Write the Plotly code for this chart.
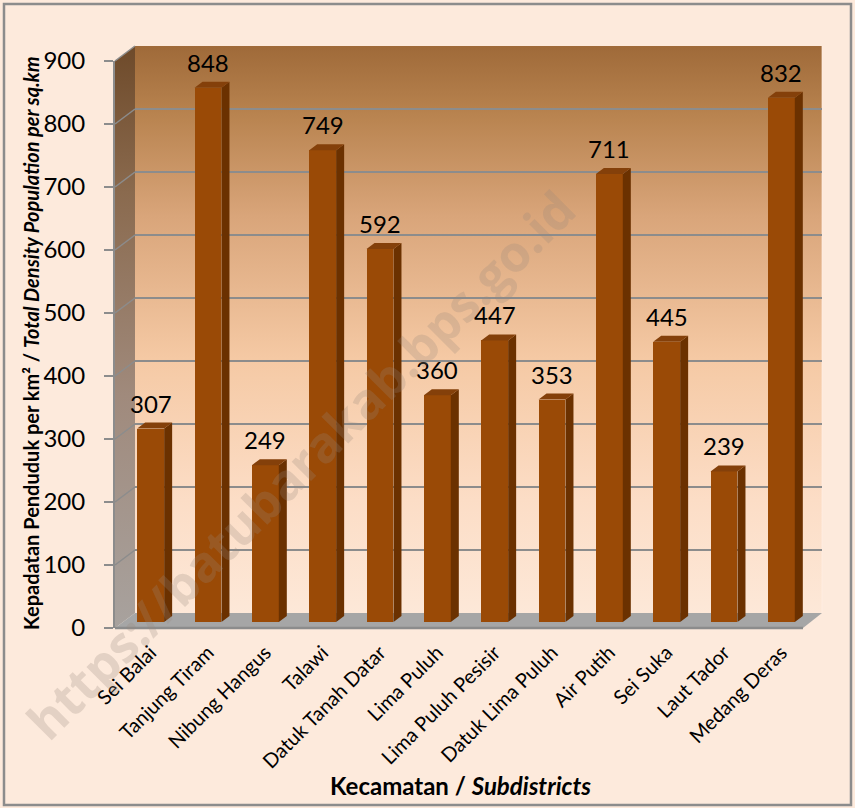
import plotly.graph_objects as go

# ---------------- data ----------------
categories = ["Sei Balai", "Tanjung Tiram", "Nibung Hangus", "Talawi", "Datuk Tanah Datar",
              "Lima Puluh", "Lima Puluh Pesisir", "Datuk Lima Puluh", "Air Putih", "Sei Suka",
              "Laut Tador", "Medang Deras"]
density = [307, 848, 249, 749, 592, 360, 447, 353, 711, 445, 239, 832]
y_ticks = [0, 100, 200, 300, 400, 500, 600, 700, 800, 900]

# ---------------- geometry (pixels) ----------------
W, H = 855, 808
FONT = "Lato"
PPU = 0.63                     # pixels per data unit (vertical)
FRONT_L, FRONT_R, FRONT_Y0 = 115, 803, 628
BACK_L, BACK_R, BACK_Y0 = 135, 822, 613
BAR_L, BAR_R, BAR_Y0 = 122, 810, 622
YMAX = 900

def px(x):
    return x / W

def py(y):
    return 1 - y / H

idx = list(range(len(categories)))
n = len(categories)
cat_px = (BAR_R - BAR_L) / n
hw = 0.235
ddx = 8 / cat_px
ddy = 6 / PPU

fig = go.Figure()

# ---------- decoration layer (xy, pixel coordinates, y up) ----------
def Y(p):
    return H - p

back_top = BACK_Y0 - YMAX * PPU
front_top = FRONT_Y0 - YMAX * PPU

# back wall with gradient
fig.add_trace(go.Scatter(
    x=[BACK_L, BACK_R, BACK_R, BACK_L, BACK_L],
    y=[Y(BACK_Y0), Y(BACK_Y0), Y(back_top), Y(back_top), Y(BACK_Y0)],
    mode="lines", line=dict(width=0), fill="toself",
    fillgradient=dict(type="vertical", start=Y(BACK_Y0), stop=Y(back_top),
                      colorscale=[[0, "#FDE8D8"], [0.2, "#FCDDC6"], [0.45, "#F5C9A4"],
                                  [0.7, "#D9A57A"], [0.88, "#B8834F"], [1, "#9F6A39"]]),
    hoverinfo="skip", showlegend=False, xaxis="x", yaxis="y"))

# left side wall with gradient
fig.add_trace(go.Scatter(
    x=[FRONT_L, BACK_L, BACK_L, FRONT_L, FRONT_L],
    y=[Y(FRONT_Y0), Y(BACK_Y0), Y(back_top), Y(front_top), Y(FRONT_Y0)],
    mode="lines", line=dict(width=0), fill="toself",
    fillgradient=dict(type="vertical", start=Y(FRONT_Y0), stop=Y(back_top),
                      colorscale=[[0, "#A8A29E"], [0.4, "#A08A7C"], [0.75, "#8A6A4E"], [1, "#6E4A2A"]]),
    hoverinfo="skip", showlegend=False, xaxis="x", yaxis="y"))

# side wall grid lines
gx, gy = [], []
for v in y_ticks[1:]:
    gx += [FRONT_L, BACK_L, None]
    gy += [Y(FRONT_Y0 - v * PPU), Y(BACK_Y0 - v * PPU), None]
fig.add_trace(go.Scatter(x=gx, y=gy, mode="lines", line=dict(color="#8C8C8C", width=1.5),
                         hoverinfo="skip", showlegend=False, xaxis="x", yaxis="y"))

# floor
fig.add_trace(go.Scatter(
    x=[FRONT_L, FRONT_R, BACK_R, BACK_L, FRONT_L],
    y=[Y(FRONT_Y0), Y(FRONT_Y0), Y(BACK_Y0), Y(BACK_Y0), Y(FRONT_Y0)],
    mode="lines", line=dict(width=0), fill="toself", fillcolor="#A6A6A6",
    hoverinfo="skip", showlegend=False, xaxis="x", yaxis="y"))
fig.add_trace(go.Scatter(
    x=[FRONT_L, FRONT_R], y=[Y(FRONT_Y0), Y(FRONT_Y0)],
    mode="lines", line=dict(color="#8C8C8C", width=2.5),
    hoverinfo="skip", showlegend=False, xaxis="x", yaxis="y"))
# back wall right edge (faint)
fig.add_trace(go.Scatter(
    x=[BACK_R, BACK_R], y=[Y(BACK_Y0), Y(back_top)],
    mode="lines", line=dict(color="rgba(255,240,230,0.7)", width=1),
    hoverinfo="skip", showlegend=False, xaxis="x", yaxis="y"))

# ---------- back wall grid (x2y2) ----------
fig.add_trace(go.Scatter(x=[0], y=[0], mode="markers", marker=dict(opacity=0),
                         hoverinfo="skip", showlegend=False, xaxis="x2", yaxis="y2"))

# ---------- bars (x3y3) ----------
fig.add_trace(go.Bar(x=idx, y=density, width=2 * hw, marker=dict(color="#9A4A06", line=dict(width=0)),
                     hoverinfo="skip", showlegend=False, xaxis="x3", yaxis="y3"))
sx, sy, tx, ty = [], [], [], []
for i, v in zip(idx, density):
    sx += [i + hw, i + hw + ddx, i + hw + ddx, i + hw, i + hw, None]
    sy += [0, ddy, v + ddy, v, 0, None]
    tx += [i - hw, i - hw + ddx, i + hw + ddx, i + hw, i - hw, None]
    ty += [v, v + ddy, v + ddy, v, v, None]
fig.add_trace(go.Scatter(x=sx, y=sy, mode="lines", line=dict(width=0), fill="toself",
                         fillcolor="#6B3100", hoverinfo="skip", showlegend=False,
                         xaxis="x3", yaxis="y3"))
fig.add_trace(go.Scatter(x=tx, y=ty, mode="lines", line=dict(width=0), fill="toself",
                         fillcolor="#84400A", hoverinfo="skip", showlegend=False,
                         xaxis="x3", yaxis="y3"))

# ---------- front y axis (x4y4) ----------
fig.add_trace(go.Scatter(x=[0], y=[0], mode="markers", marker=dict(opacity=0),
                         hoverinfo="skip", showlegend=False, xaxis="x4", yaxis="y4"))

# data labels
annotations = []
for i, v in zip(idx, density):
    annotations.append(dict(x=i, y=v, xref="x3", yref="y3", text=str(v), showarrow=False,
                            xanchor="center", yanchor="bottom", yshift=9,
                            font=dict(family=FONT, size=24, color="#000000")))

# axis titles
annotations.append(dict(x=px(460), y=py(785), xref="paper", yref="paper",
                        xanchor="center", yanchor="middle",
                        text="<b>Kecamatan / <i>Subdistricts</i></b>", showarrow=False,
                        font=dict(family=FONT, size=24, color="#000000")))
annotations.append(dict(x=px(31), y=py(343), xref="paper", yref="paper", textangle=-90,
                        xanchor="center", yanchor="middle",
                        text="<b>Kepadatan Penduduk per km² / <i>Total Density Population per sq.km</i></b>",
                        showarrow=False, font=dict(family=FONT, size=20, color="#000000")))
# watermark
annotations.append(dict(x=px(300), y=py(465), xref="paper", yref="paper", textangle=-45,
                        xanchor="center", yanchor="middle",
                        text="<b>https://batubarakab.bps.go.id</b>", showarrow=False,
                        font=dict(family="Open Sans", size=50, color="rgba(150,135,125,0.25)")))

shapes = [dict(type="rect", xref="paper", yref="paper", x0=px(4), x1=px(851), y0=py(805), y1=py(4),
               line=dict(color="#8C8C8C", width=2.5), fillcolor="rgba(0,0,0,0)")]

hidden = dict(visible=False, fixedrange=True)

fig.update_layout(
    width=W, height=H,
    margin=dict(l=0, r=0, t=0, b=0, pad=0, autoexpand=False),
    paper_bgcolor="#FDEADC",
    plot_bgcolor="rgba(0,0,0,0)",
    showlegend=False,
    bargap=0,
    xaxis=dict(domain=[0, 1], range=[0, W], **hidden),
    yaxis=dict(domain=[0, 1], range=[0, H], anchor="x", **hidden),
    xaxis2=dict(domain=[px(BACK_L), px(BACK_R)], range=[0, 1], anchor="y2", **hidden),
    yaxis2=dict(domain=[py(BACK_Y0), py(back_top)], range=[0, YMAX], anchor="x2",
                tickvals=y_ticks, showgrid=True, gridcolor="#8C8C8C", gridwidth=2,
                showticklabels=False, ticks="", zeroline=False, showline=False, fixedrange=True),
    xaxis3=dict(domain=[px(BAR_L), px(BAR_R)], range=[-0.5, n - 0.5], anchor="y3",
                tickvals=idx, ticktext=categories, tickangle=-45, ticks="",
                showgrid=False, zeroline=False, showline=False, ticklabelstandoff=14,
                automargin=False,
                tickfont=dict(family=FONT, size=20, color="#000000"), fixedrange=True),
    yaxis3=dict(domain=[py(BAR_Y0), py(BAR_Y0 - YMAX * PPU)], range=[0, YMAX], anchor="x3",
                **hidden),
    xaxis4=dict(domain=[px(FRONT_L), px(FRONT_R)], range=[0, 1], anchor="y4", **hidden),
    yaxis4=dict(domain=[py(FRONT_Y0), py(front_top)], range=[0, YMAX], anchor="x4",
                tickvals=y_ticks, ticks="outside", ticklen=9, tickwidth=2, tickcolor="#8C8C8C",
                showline=True, linecolor="#8C8C8C", linewidth=2, showgrid=False, zeroline=False,
                ticklabelstandoff=14, automargin=False,
                tickfont=dict(family=FONT, size=24, color="#000000"), fixedrange=True),
    annotations=annotations,
    shapes=shapes,
)

fig.write_html("out.html", config={"displayModeBar": False},
               post_script="document.body.style.margin='0px';")
